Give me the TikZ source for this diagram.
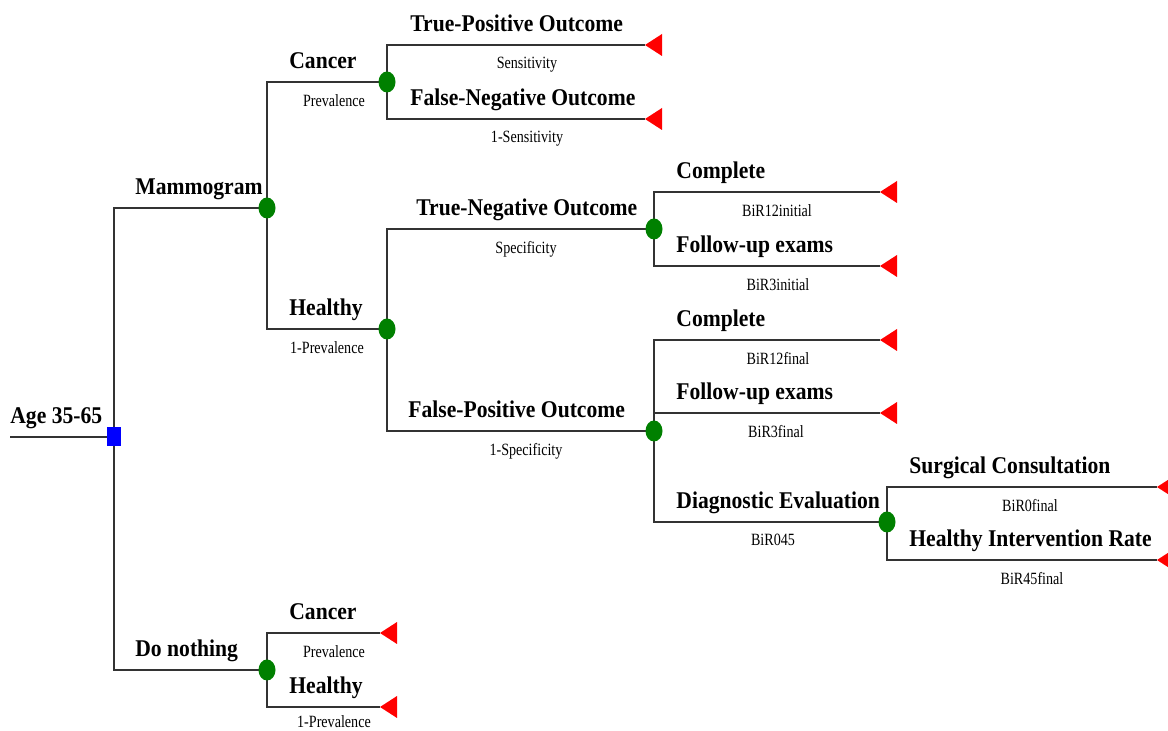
\documentclass[tikz,border=0pt]{standalone}
\usepackage{fontspec}
\setmainfont{Liberation Serif}
\newfontfamily\branchfont[FakeStretch=0.9]{Liberation Serif}
\newfontfamily\probfont[FakeStretch=0.82]{Liberation Serif}
\usetikzlibrary{positioning,calc,shapes,backgrounds,arrows.meta}

\definecolor{chancegreen}{RGB}{0,128,0}
\definecolor{decblue}{RGB}{0,0,255}
\definecolor{leafred}{RGB}{255,0,0}
\definecolor{treeline}{RGB}{51,51,51}

\tikzset{
  decision/.style={rectangle, fill=decblue, inner sep=0pt, minimum width=7pt, minimum height=9.5pt},
  chance/.style={ellipse, fill=chancegreen, inner sep=0pt, minimum width=8.5pt, minimum height=10.5pt},
  branch/.style={draw=treeline, line width=0.75pt},
  lab/.style={anchor=base west, inner sep=0pt, font=\branchfont\bfseries\fontsize{12}{14}\selectfont},
  prob/.style={anchor=north, inner sep=0pt, font=\probfont\fontsize{8.6}{10}\selectfont},
  leaf/.style={fill=leafred}
}

\begin{document}
\begin{tikzpicture}[x=0.5pt, y=-0.5pt]
				\useasboundingbox (0,0) rectangle (1168,731);
				% decision and chance nodes
				\coordinate (start) at (10,437);
				\node [decision] (dec) at (114,437) {};
				\node [chance] (mam) at (267,208) {};
				\node [chance] (nothing) at (267,670) {};
				\node [chance] (canc) at (387,82) {};
				\node [chance] (heal) at (387,329) {};
				\node [chance] (tneg) at (654,229) {};
				\node [chance] (fpos) at (654,431) {};
				\node [chance] (diag) at (887,522) {};
				% terminal points
				\coordinate (tpos) at (645,45);
				\coordinate (fneg) at (645,119);
				\coordinate (comp1) at (880,192);
				\coordinate (foll1) at (880,266);
				\coordinate (comp2) at (880,340);
				\coordinate (foll2) at (880,413);
				\coordinate (surg) at (1157,487);
				\coordinate (hint) at (1157,560);
				\coordinate (ncanc) at (380,633);
				\coordinate (nheal) at (380,707);
				% branches
				\begin{scope}[on background layer]
				\draw [branch] (start) -- (dec.center);
				\draw [branch] (dec.center) |- (mam.center);
				\draw [branch] (dec.center) |- (nothing.center);
				\draw [branch] (mam.center) |- (canc.center);
				\draw [branch] (mam.center) |- (heal.center);
				\draw [branch] (canc.center) |- (tpos);
				\draw [branch] (canc.center) |- (fneg);
				\draw [branch] (heal.center) |- (tneg.center);
				\draw [branch] (heal.center) |- (fpos.center);
				\draw [branch] (tneg.center) |- (comp1);
				\draw [branch] (tneg.center) |- (foll1);
				\draw [branch] (fpos.center) |- (comp2);
				\draw [branch] (fpos.center) |- (foll2);
				\draw [branch] (fpos.center) |- (diag.center);
				\draw [branch] (diag.center) |- (surg);
				\draw [branch] (diag.center) |- (hint);
				\draw [branch] (nothing.center) |- (ncanc);
				\draw [branch] (nothing.center) |- (nheal);
				\end{scope}
				% terminal triangles
				\foreach \t in {tpos,fneg,comp1,foll1,comp2,foll2,surg,hint,ncanc,nheal}
					\fill [leaf] (\t) -- ++(17,-11) -- ++(0,22) -- cycle;
				% branch names
				\node [lab] (lage) at (10,424) {Age 35-65};
				\node [lab] (lmam) at (135,195) {Mammogram};
				\node [lab] (lnot) at (135,657) {Do nothing};
				\node [lab] (lcan) at (289,69) {Cancer};
				\node [lab] (lhea) at (289,316) {Healthy};
				\node [lab] (ltpo) at (410,32) {True-Positive Outcome};
				\node [lab] (lfne) at (410,106) {False-Negative Outcome};
				\node [lab] (ltne) at (416,216) {True-Negative Outcome};
				\node [lab] (lfpo) at (408,418) {False-Positive Outcome};
				\node [lab] (lco1) at (676,179) {Complete};
				\node [lab] (lfo1) at (676,253) {Follow-up exams};
				\node [lab] (lco2) at (676,327) {Complete};
				\node [lab] (lfo2) at (676,400) {Follow-up exams};
				\node [lab] (ldia) at (676,509) {Diagnostic Evaluation};
				\node [lab] (lsur) at (909,474) {Surgical Consultation};
				\node [lab] (lhin) at (909,547) {Healthy Intervention Rate};
				\node [lab] (lnca) at (289,620) {Cancer};
				\node [lab] (lnhe) at (289,694) {Healthy};
				% probabilities
				\node [prob] (pcan) at (334,94) {Prevalence};
				\node [prob] (phea) at (327,341) {1-Prevalence};
				\node [prob] (ptpo) at (527,57) {Sensitivity};
				\node [prob] (pfne) at (527,131) {1-Sensitivity};
				\node [prob] (ptne) at (526,241) {Specificity};
				\node [prob] (pfpo) at (526,443) {1-Specificity};
				\node [prob] (pco1) at (777,204) {BiR12initial};
				\node [prob] (pfo1) at (778,278) {BiR3initial};
				\node [prob] (pco2) at (778,352) {BiR12final};
				\node [prob] (pfo2) at (776,425) {BiR3final};
				\node [prob] (pdia) at (773,534) {BiR045};
				\node [prob] (psur) at (1030,499) {BiR0final};
				\node [prob] (phin) at (1032,572) {BiR45final};
				\node [prob] (pnca) at (334,645) {Prevalence};
				\node [prob] (pnhe) at (334,715) {1-Prevalence};
			\end{tikzpicture}
\end{document}
